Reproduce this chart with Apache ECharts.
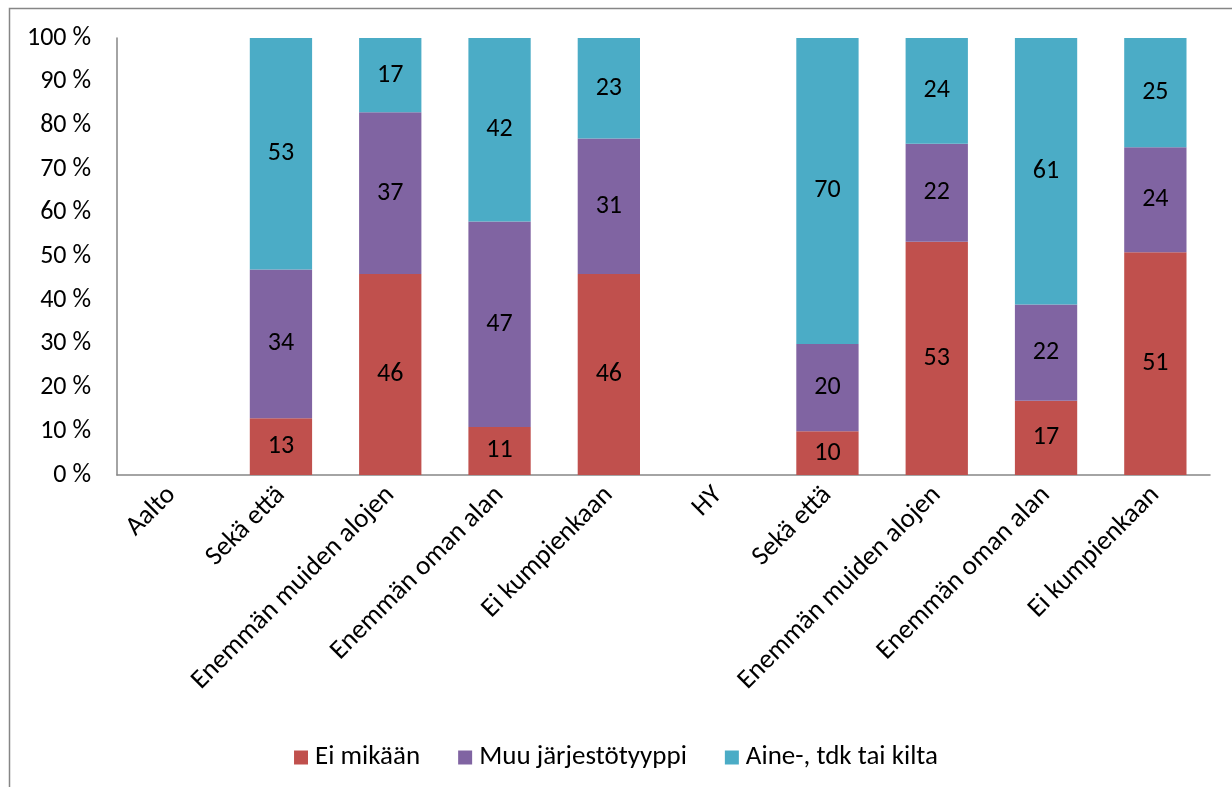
<!DOCTYPE html>
<html><head><meta charset="utf-8">
<script src="https://cdn.jsdelivr.net/npm/echarts@6/dist/echarts.min.js"></script>
<style>html,body{margin:0;padding:0;background:#fff}#c{width:1232px;height:787px}</style>
</head><body><div id="c"></div>
<script>
const categories = ['Aalto','Sekä että','Enemmän muiden alojen','Enemmän oman alan','Ei kumpienkaan','HY','Sekä että','Enemmän muiden alojen','Enemmän oman alan','Ei kumpienkaan'];
const eiMikaan = [null, 13, 46, 11, 46, null, 10, 53.4, 17, 51];
const muuJarjesto = [null, 34, 37, 47, 31, null, 20, 22.4, 22, 24];
const aineKilta = [null, 53, 17, 42, 23, null, 70, 24.2, 61, 25];
const yTicks = [0,10,20,30,40,50,60,70,80,90,100];

const FONT = 'Carlito, Calibri, "Open Sans", sans-serif';
const chart = echarts.init(document.getElementById('c'));
function ser(name, data, color){
  return {name, type:'bar', stack:'s', data, barWidth:'57%',
    itemStyle:{color},
    label:{show:true, position:'inside', color:'#000', fontSize:26, fontFamily:FONT,
      formatter:p=>p.value==null?'':Math.round(p.value)}};
}
chart.setOption({
  animation:false,
  textStyle:{fontFamily:FONT},
  graphic:[{type:'rect', shape:{x:9.5,y:8.5,width:1240,height:800}, style:{fill:null, stroke:'#868686', lineWidth:1.5}}],
  grid:{left:117, top:38, right:22, bottom:312},
  legend:{top:739, left:'center', itemWidth:14, itemHeight:14, itemGap:38, icon:'rect',
    textStyle:{fontSize:27, color:'#000', fontFamily:FONT, padding:[0,0,0,2]},
    data:['Ei mikään','Muu järjestötyyppi','Aine-, tdk tai kilta']},
  xAxis:{type:'category', data:categories,
    axisLine:{lineStyle:{color:'#868686', width:1.5}}, axisTick:{show:false},
    axisLabel:{rotate:45, interval:0, fontSize:27, color:'#000', margin:16, fontFamily:FONT}},
  yAxis:{type:'value', min:0, max:100, interval:10,
    axisLine:{show:true, lineStyle:{color:'#868686', width:1.5}}, axisTick:{show:false},
    splitLine:{show:false},
    axisLabel:{fontSize:26, color:'#000', margin:26, fontFamily:FONT, formatter:v=>v+' %'}},
  series:[ser('Ei mikään', eiMikaan, '#C0504D'), ser('Muu järjestötyyppi', muuJarjesto, '#8064A2'), ser('Aine-, tdk tai kilta', aineKilta, '#4BACC6')]
});
</script></body></html>
